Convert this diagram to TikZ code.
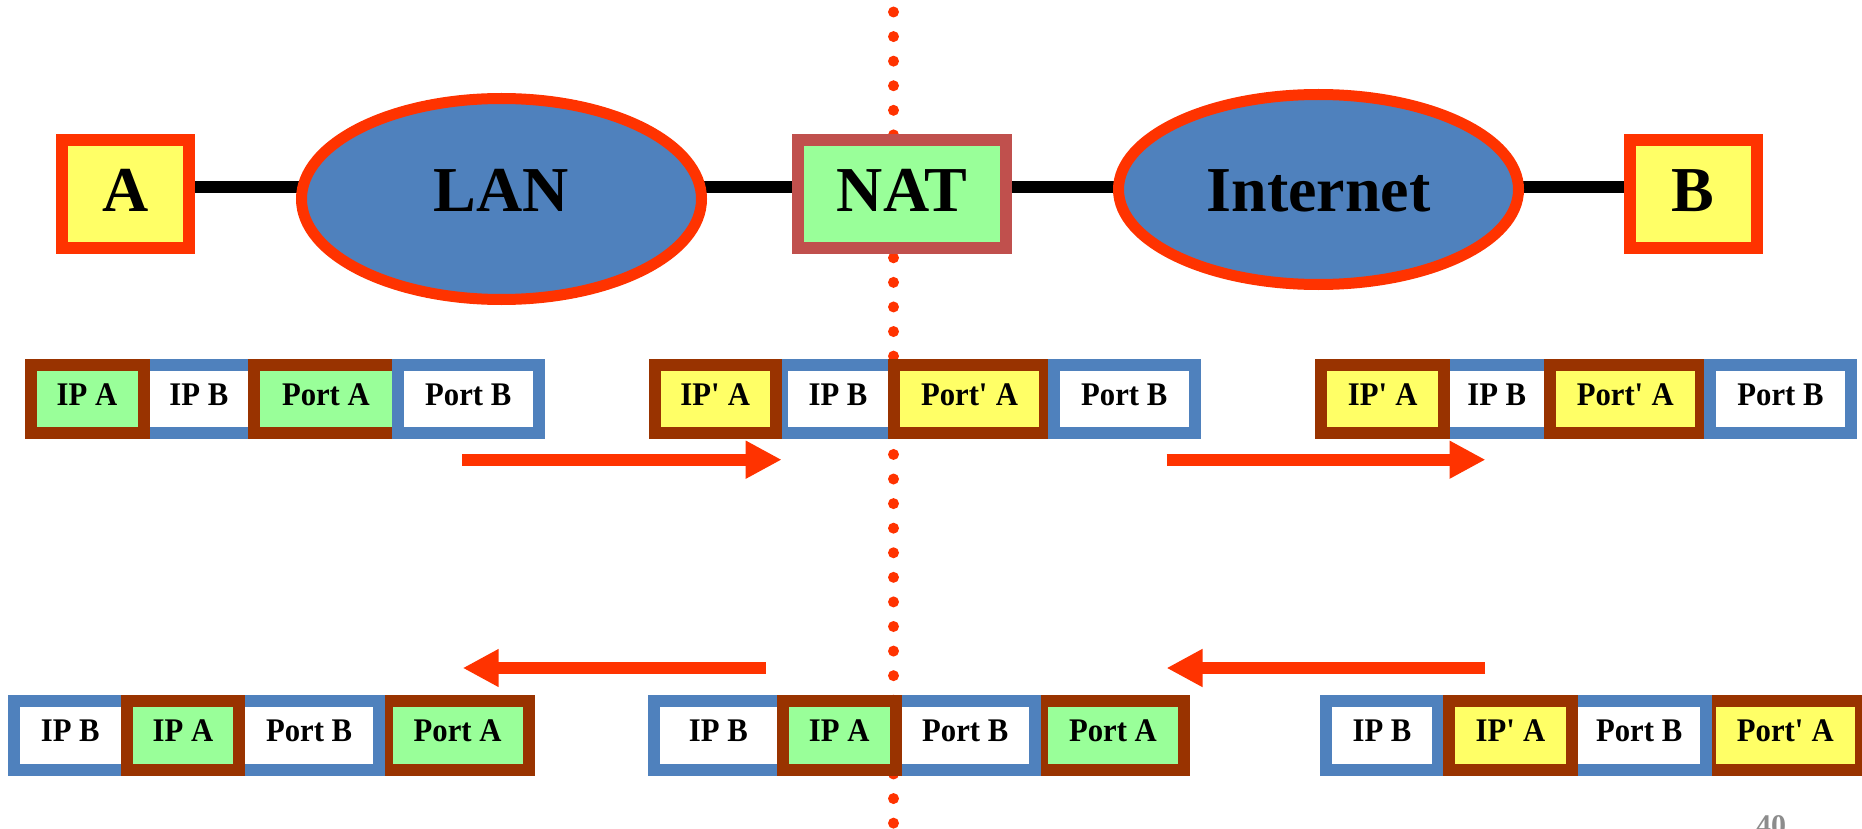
\documentclass[tikz,border=0pt]{standalone}
\usepackage{fontspec}
\setmainfont{Liberation Serif}
\newfontfamily\pktfont[FakeStretch=0.93]{Liberation Serif}
\usetikzlibrary{arrows.meta,shapes.geometric,backgrounds}
\definecolor{brownc}{HTML}{993300}
\definecolor{bluec}{HTML}{4F81BD}
\definecolor{greenc}{HTML}{99FF99}
\definecolor{yellowc}{HTML}{FFFF66}
\definecolor{redc}{HTML}{FF3300}
\definecolor{natc}{HTML}{C0504D}
\definecolor{pagec}{HTML}{8C8C8C}
\newcommand\pfield[6]{\node[#2, minimum width={#4-#3-12}] (#1) at ({(#3+#4)/2},#5) {#6};}
\newcommand\qq{\textquotesingle}
\begin{document}
\begin{tikzpicture}[x=1pt,y=-1pt,
  bigfont/.style={font=\fontsize{64}{64}\selectfont\bfseries},
  box/.style={rectangle, line width=12pt, inner sep=0pt, outer sep=0pt, bigfont, text height=40pt, text depth=4.6pt},
  hostbox/.style={box, draw=redc, fill=yellowc, minimum width=127pt, minimum height=108pt},
  natbox/.style={box, draw=natc, fill=greenc, minimum width=208pt, minimum height=108pt},
  cloud/.style={ellipse, draw=redc, fill=bluec, line width=11pt, inner sep=0pt, outer sep=0pt, bigfont, minimum width=400pt},
  conn/.style={line width=12pt, black},
  fieldbase/.style={rectangle, line width=12pt, inner sep=0pt, outer sep=0pt, font=\pktfont\fontsize{33}{33}\selectfont\bfseries, text height=20pt, text depth=7pt},
  toprow/.style={minimum height=68.5pt},
  botrow/.style={minimum height=69pt},
  bluefield/.style={fieldbase, draw=bluec, fill=white},
  greenfield/.style={fieldbase, draw=brownc, fill=greenc},
  yellowfield/.style={fieldbase, draw=brownc, fill=yellowc},
  flow/.style={redc, line width=12pt, -{Triangle[length=36pt,width=35.5pt]}},
  dots/.style={redc, line width=11pt, line cap=round, dash pattern=on 0pt off 24.58pt}
]
\useasboundingbox (0,0) rectangle (1862,829);
\clip (0,0) rectangle (1862,829);

% network row
\node[hostbox] (A) at (125.5,194) {A};
\node[cloud, minimum height=201pt, text height=40pt, text depth=14.6pt] (LAN) at (501.5,199) {LAN};
\node[natbox] (NAT) at (902,194) {NAT};
\node[cloud, minimum height=190pt, text height=45pt, text depth=0.6pt] (INET) at (1318.5,189.5) {Internet};
\node[hostbox] (B) at (1693,194) {B};

% top row packets, y center 398.75
\pfield{p1ipb}{bluefield,toprow}{137.5}{260.3}{398.75}{IP B}
\pfield{p1pa}{greenfield,toprow}{248.3}{403.5}{398.75}{Port A}
\pfield{p1pb}{bluefield,toprow}{391.5}{545}{398.75}{Port B}
\pfield{p1ipa}{greenfield,toprow}{24.5}{149.5}{398.75}{IP A}

\pfield{p2ipb}{bluefield,toprow}{776}{900}{398.75}{IP B}
\pfield{p2pa}{yellowfield,toprow}{888}{1051}{398.75}{Port\qq{} A}
\pfield{p2pb}{bluefield,toprow}{1048}{1200.5}{398.75}{Port B}
\pfield{p2ipa}{yellowfield,toprow}{648.5}{782}{398.75}{IP\qq{} A}

\pfield{p3ipb}{bluefield,toprow}{1438}{1555.5}{398.75}{IP B}
\pfield{p3pa}{yellowfield,toprow}{1543.5}{1707}{398.75}{Port\qq{} A}
\pfield{p3pb}{bluefield,toprow}{1704}{1857}{398.75}{Port B}
\pfield{p3ipa}{yellowfield,toprow}{1315.4}{1450.2}{398.75}{IP\qq{} A}

% bottom row packets, y center 735
\pfield{p4ipb}{bluefield,botrow}{8}{132.5}{735}{IP B}
\pfield{p4pa}{greenfield,botrow}{380.5}{534.6}{735}{Port A}
\pfield{p4pb}{bluefield,botrow}{233.2}{385}{735}{Port B}
\pfield{p4ipa}{greenfield,botrow}{120.6}{245.2}{735}{IP A}

\pfield{p5ipb}{bluefield,botrow}{647.7}{789}{735}{IP B}
\pfield{p5pa}{greenfield,botrow}{1036}{1190}{735}{Port A}
\pfield{p5pb}{bluefield,botrow}{889.5}{1041}{735}{Port B}
\pfield{p5ipa}{greenfield,botrow}{777}{901.5}{735}{IP A}

\pfield{p6ipb}{bluefield,botrow}{1320}{1444}{735}{IP B}
\pfield{p6pa}{yellowfield,botrow}{1703.7}{1867}{735}{Port\qq{} A}
\pfield{p6pb}{bluefield,botrow}{1566}{1712.3}{735}{Port B}
\pfield{p6ipa}{yellowfield,botrow}{1443}{1578}{735}{IP\qq{} A}

% flow arrows
\coordinate (f1s) at (462,459.7);   \coordinate (f1e) at (781.7,459.7);
\coordinate (f2s) at (1166.5,459.7); \coordinate (f2e) at (1485.5,459.7);
\coordinate (f3s) at (765.7,668);   \coordinate (f3e) at (462.7,668);
\coordinate (f4s) at (1485,668);    \coordinate (f4e) at (1166.5,668);
\draw[flow] (f1s) -- (f1e);
\draw[flow] (f2s) -- (f2e);
\draw[flow] (f3s) -- (f3e);
\draw[flow] (f4s) -- (f4e);

% page number
\node[font=\fontsize{30}{30}\selectfont\bfseries, text=pagec, anchor=base west, inner sep=0pt] (pnum) at (1756,835) {40};

\begin{pgfonlayer}{background}
  \fill[white] (0,0) rectangle (1862,829);
  \coordinate (dtop) at (893.5,12);
  \coordinate (dbot) at (893.5,829);
  \draw[dots] (dtop) -- (dbot);
  \draw[conn] (A.center |- 0,187) -- (LAN.center |- 0,187);
  \draw[conn] (LAN.center |- 0,187) -- (NAT.center |- 0,187);
  \draw[conn] (NAT.center |- 0,187) -- (INET.center |- 0,187);
  \draw[conn] (INET.center |- 0,187) -- (B.center |- 0,187);
\end{pgfonlayer}
\end{tikzpicture}
\end{document}
